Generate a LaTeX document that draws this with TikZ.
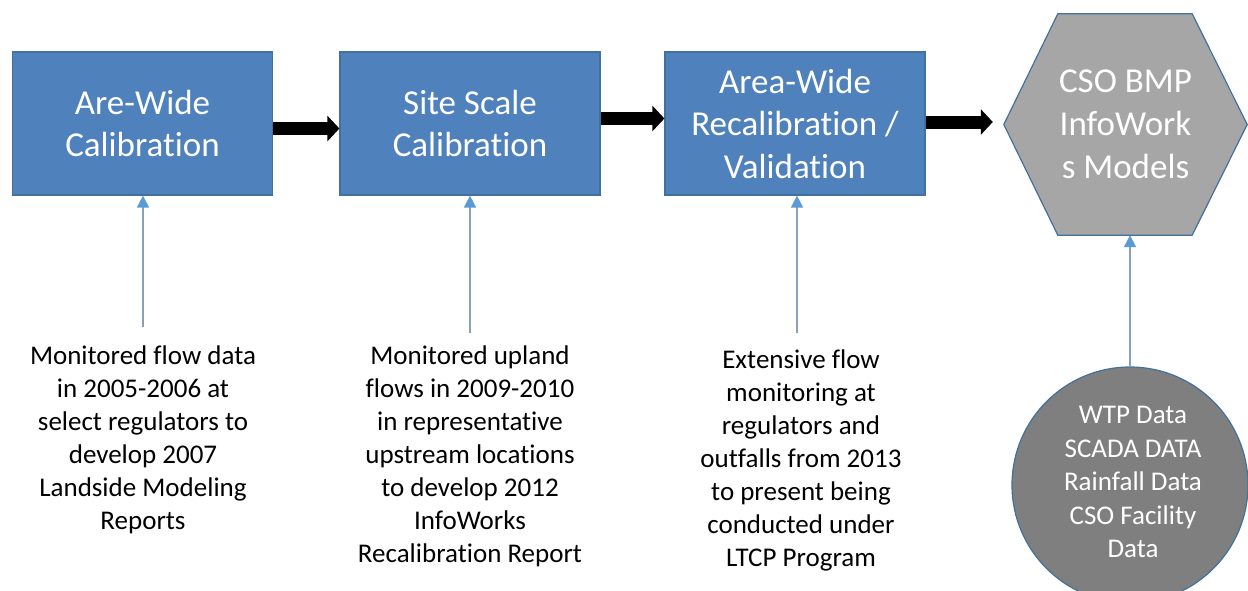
\documentclass[tikz,border=0pt]{standalone}
\usepackage{fontspec}
\setmainfont{Carlito}[Ligatures=NoCommon]
\usetikzlibrary{arrows.meta,shapes.geometric}
\definecolor{boxblue}{HTML}{4F81BD}
\definecolor{edgeblue}{HTML}{41719C}
\definecolor{hexgray}{HTML}{A6A6A6}
\definecolor{circgray}{HTML}{7F7F7F}
\definecolor{thinline}{HTML}{8AA0B8}
\definecolor{tipblue}{HTML}{5B9BD5}
\tikzset{
  stagebox/.style={draw=edgeblue,line width=1.2pt,fill=boxblue,text=white,
    minimum width=260pt,minimum height=143pt,align=center,inner sep=0pt,
    font=\fontsize{35}{42.5}\selectfont},
  bigarrow/.style={line width=13pt,-{Triangle[length=12pt,width=25pt]}},
  thinarrow/.style={draw=thinline,line width=1.5pt,-{Triangle[length=12pt,width=12pt,color=tipblue]}},
  note/.style={align=center,inner sep=0pt,text=black,font=\fontsize{27}{33}\selectfont},
}
\begin{document}
\begin{tikzpicture}[x=1pt,y=-1pt]
\clip (0,0) rectangle (1248,590);
\fill[white] (0,0) rectangle (1248,590);

\node[stagebox] (b1) at (142.5,123.5) {Are-Wide\\Calibration};
\node[stagebox] (b2) at (470,123.5) {Site Scale\\Calibration};
\node[stagebox] (b3) at (795,123.5) {Area-Wide\\Recalibration /\\Validation};

% hexagon
\node[minimum width=243pt,minimum height=221pt,inner sep=0pt] (hex) at (1125.5,124.5) {};
\draw[draw=edgeblue,line width=1.2pt,fill=hexgray]
  (hex.west) -- ([xshift=54pt]hex.north west) -- ([xshift=-55pt]hex.north east)
  -- (hex.east) -- ([xshift=-55pt]hex.south east) -- ([xshift=54pt]hex.south west) -- cycle;
\node[align=center,text=white,font=\fontsize{35}{43}\selectfont] (hext) at (hex.center) {CSO BMP\\InfoWork\\s Models};

% circle
\node[circle,draw=edgeblue,line width=1.2pt,fill=circgray,minimum size=236pt,inner sep=0pt] (circ) at (1130,485) {};
\node[align=center,text=white,font=\fontsize{27}{33.5}\selectfont] (circt) at (1133,482) {WTP Data\\SCADA DATA\\Rainfall Data\\CSO Facility\\Data};

% notes
\node[note] (n1) at (143,440) {Monitored flow data\\in 2005-2006 at\\select regulators to\\develop 2007\\Landside Modeling\\Reports};
\node[note] (n2) at (470,456) {Monitored upland\\flows in 2009-2010\\in representative\\upstream locations\\to develop 2012\\InfoWorks\\Recalibration Report};
\node[note] (n3) at (801,460) {Extensive flow\\monitoring at\\regulators and\\outfalls from 2013\\to present being\\conducted under\\LTCP Program};

% big arrows
\draw[bigarrow] ([yshift=-5pt]b1.east) -- ([yshift=-5pt]b2.west);
\draw[bigarrow] ([yshift=5pt]b2.east) -- ([yshift=5pt]b3.west);
\draw[bigarrow] ([yshift=1.5pt]b3.east) -- ([xshift=-11pt,yshift=2.5pt]hex.west);

% thin arrows
\coordinate (s1) at (143,327);
\coordinate (s2) at (470,333);
\coordinate (s3) at (797,333);
\draw[thinarrow] (s1) -- (s1 |- b1.south);
\draw[thinarrow] (s2) -- (s2 |- b2.south);
\draw[thinarrow] (s3) -- (s3 |- b3.south);
\draw[thinarrow] (circ.north) -- (circ.north |- hex.south);
\end{tikzpicture}
\end{document}
